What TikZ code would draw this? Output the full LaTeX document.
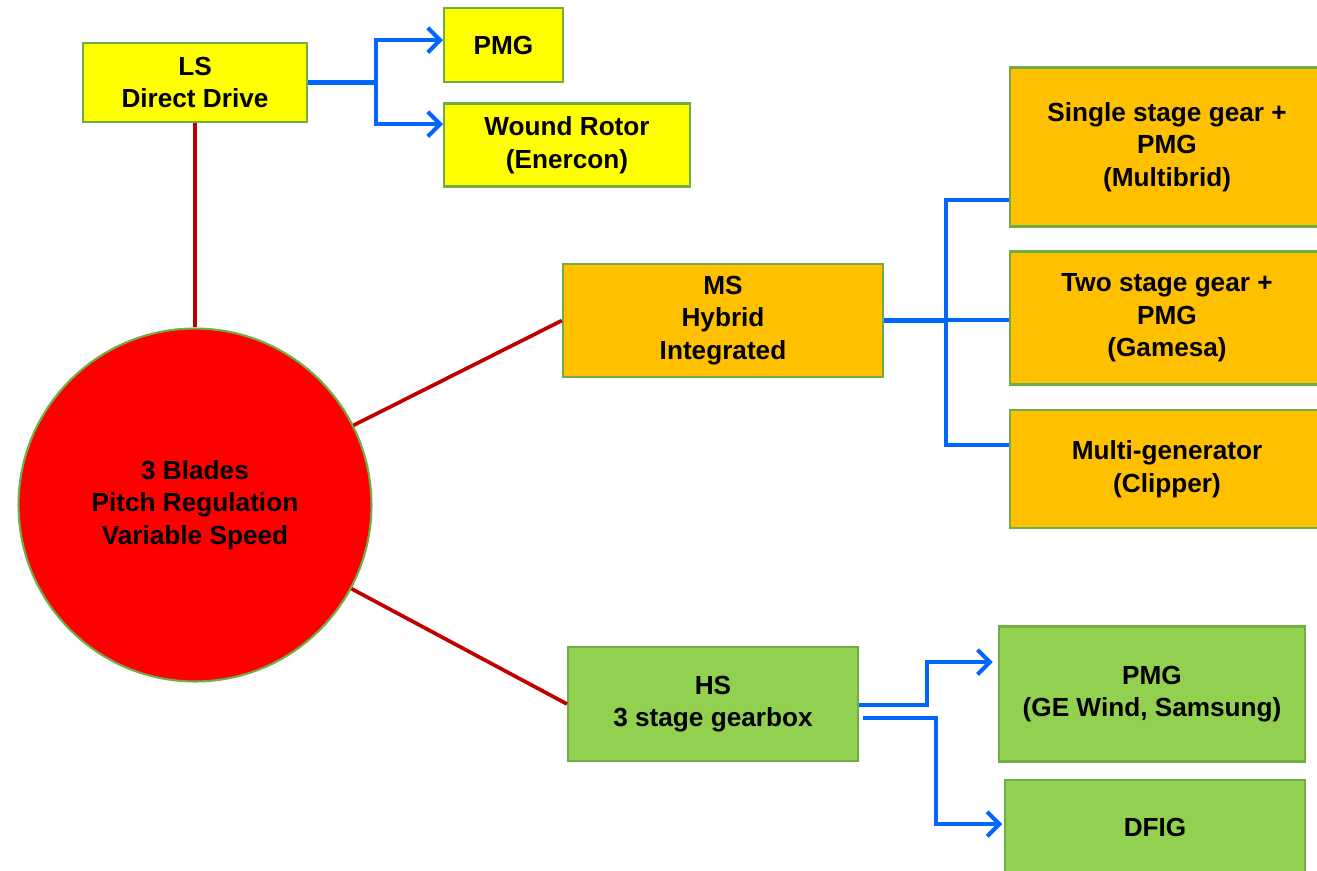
\documentclass[tikz,border=0pt]{standalone}
\usepackage{fontspec}
\setmainfont{Liberation Sans}
\usetikzlibrary{arrows.meta}
\definecolor{wtyellow}{HTML}{FFFF00}
\definecolor{wtorange}{HTML}{FFC000}
\definecolor{wtgreen}{HTML}{92D050}
\definecolor{wtedge}{HTML}{70AD47}
\definecolor{wtred}{HTML}{FF0000}
\definecolor{wtdark}{HTML}{C00000}
\definecolor{wtblue}{HTML}{0066FF}
\def\wtunit{0.02cm}
\tikzset{
   wtnode/.style={draw=wtedge, line width=1.2pt, rectangle, align=center, inner sep=2pt, font=\fontsize{14.9}{18.5}\selectfont\bfseries},
   wthub/.style={wtnode, circle, fill=wtred, minimum size=7.06cm},
   wtlink/.style={draw=wtdark, line width=2.1pt},
   wtfeed/.style={draw=wtblue, line width=2.3pt},
   wtarrow/.style={-{Straight Barb[length=7pt,width=14pt]}}
}

\begin{document}
\begin{tikzpicture}[x=\wtunit, y=-\wtunit]
\useasboundingbox (0,0) rectangle (1317,871);

\node[wthub] (hub) at (195,505) {3 Blades\\Pitch Regulation\\Variable Speed};

\node[wtnode, fill=wtyellow, minimum width=4.48cm, minimum height=1.58cm] (ls) at (195,82.5) {LS\\Direct Drive};
\node[wtnode, fill=wtyellow, minimum width=2.38cm, minimum height=1.48cm] (lspmg) at (503.5,45) {PMG};
\node[wtnode, fill=wtyellow, minimum width=4.92cm, minimum height=1.66cm] (lswound) at (567,145) {Wound Rotor\\(Enercon)};

\node[wtnode, fill=wtorange, minimum width=6.4cm, minimum height=2.26cm] (ms) at (723,320.5) {MS\\Hybrid\\Integrated};
\node[wtnode, fill=wtorange, minimum width=6.28cm, minimum height=3.18cm] (msone) at (1167,147) {Single stage gear +\\PMG\\(Multibrid)};
\node[wtnode, fill=wtorange, minimum width=6.28cm, minimum height=2.66cm] (mstwo) at (1167,318) {Two stage gear +\\PMG\\(Gamesa)};
\node[wtnode, fill=wtorange, minimum width=6.28cm, minimum height=2.36cm] (msmulti) at (1167,469) {Multi-generator\\(Clipper)};

\node[wtnode, fill=wtgreen, minimum width=5.8cm, minimum height=2.28cm] (hs) at (713,704) {HS\\3 stage gearbox};
\node[wtnode, fill=wtgreen, minimum width=6.12cm, minimum height=2.7cm] (hspmg) at (1152,694) {PMG\\(GE Wind, Samsung)};
\node[wtnode, fill=wtgreen, minimum width=6.0cm, minimum height=1.88cm] (hsdfig) at (1155,827) {DFIG};

\foreach \n/\a in {ls/south, ms/west, hs/west}
    \draw[wtlink] (hub) -- (\n.\a);

\coordinate (lsfork) at (376,82.5);
\draw[wtfeed] (ls.east) -- (lsfork);
\foreach \n/\s in {lspmg/2.8pt, lswound/11.9pt}
    \draw[wtfeed, wtarrow] (lsfork) |- ([yshift=\s]\n.west);

\coordinate (msfork) at (946,320.5);
\draw[wtfeed] (ms.east) -- (msfork);
\foreach \n/\s in {msone/-30.0pt, mstwo/-1.4pt, msmulti/13.6pt}
    \draw[wtfeed] (msfork) |- ([yshift=\s]\n.west);

\draw[wtfeed, wtarrow, shorten >=3pt] ([yshift=-0.6pt]hs.east) -- ++(68,0) |- ([yshift=18.1pt]hspmg.west);
\draw[wtfeed, wtarrow, shorten >=1pt] ([xshift=2.3pt, yshift=-8pt]hs.east) -- ++(73,0) |- ([yshift=1.7pt]hsdfig.west);
\end{tikzpicture}
\end{document}
